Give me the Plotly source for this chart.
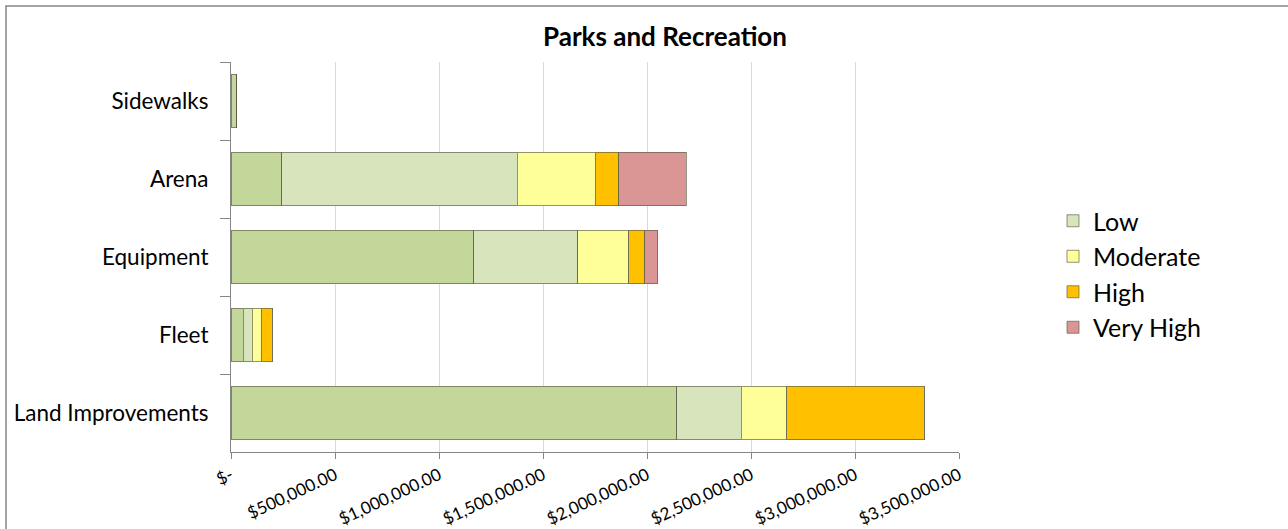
import plotly.graph_objects as go

# Asset categories, listed top to bottom
categories = ["Sidewalks", "Arena", "Equipment", "Fleet", "Land Improvements"]

# Replacement cost by risk rating (dollars)
low_base = [27000, 245000, 1168000, 57700, 2142000]
low = [0, 1130000, 500000, 43300, 311000]
moderate = [0, 375000, 245000, 44700, 220000]
high = [0, 115000, 75000, 52900, 660000]
very_high = [0, 324000, 62500, 0, 0]

# Axis ticks
tick_values = [0, 500000, 1000000, 1500000, 2000000, 2500000, 3000000, 3500000]
tick_labels = ["$-", "$500,000.00", "$1,000,000.00", "$1,500,000.00",
               "$2,000,000.00", "$2,500,000.00", "$3,000,000.00", "$3,500,000.00"]

FONT = "Lato, 'Open Sans', sans-serif"
OUTLINE = "rgba(90,90,70,0.65)"

series = [
    ("Low (base)", low_base, "#C4D79B", False),
    ("Low", low, "#D8E4BC", True),
    ("Moderate", moderate, "#FFFF99", True),
    ("High", high, "#FFC000", True),
    ("Very High", very_high, "#DA9694", True),
]

fig = go.Figure()
for name, vals, color, show in series:
    fig.add_trace(go.Bar(
        y=categories, x=vals, name=name, orientation="h",
        marker=dict(color=color, line=dict(color=OUTLINE, width=1)),
        showlegend=show,
    ))

L, R, T, B = 231, 959, 62, 452
W, H = 1288, 529

fig.update_layout(
    width=W, height=H,
    barmode="stack", bargap=0.32,
    paper_bgcolor="white", plot_bgcolor="white",
    margin=dict(l=L, r=W - R, t=T, b=H - B, pad=0, autoexpand=False),
    font=dict(family=FONT, color="#000000"),
    title=dict(text="<b>Parks and Recreation</b>", font=dict(size=26, family=FONT),
               x=(665 - L) / (R - L), xref="paper", xanchor="center",
               y=(H - 37) / H, yref="container", yanchor="middle"),
    legend=dict(x=(1053 - L) / (R - L), xanchor="left", y=(B - 198) / (B - T), yanchor="top",
                font=dict(size=25, family=FONT), tracegroupgap=0, itemwidth=30,
                traceorder="normal", bgcolor="rgba(0,0,0,0)"),
    xaxis=dict(range=[0, 3500000], tickvals=tick_values, ticktext=tick_labels,
               tickangle=-25, tickfont=dict(size=17, family=FONT, color="#000000"),
               showgrid=True, gridcolor="#D9D9D9", gridwidth=1, automargin=False,
               zeroline=False, showline=True, linecolor="#868686", linewidth=1,
               ticks="outside", ticklen=6, tickcolor="#868686"),
    yaxis=dict(autorange="reversed", type="category", automargin=False,
               tickfont=dict(size=22.5, family=FONT, color="#000000"),
               showgrid=False, zeroline=False, showline=True, linecolor="#868686", linewidth=1,
               ticks="outside", tickson="boundaries", ticklen=10, tickcolor="#868686",
               ticklabelstandoff=17),
    shapes=[dict(type="rect", xref="paper", yref="paper",
                 x0=(6 - L) / (R - L), x1=(W + 20 - L) / (R - L),
                 y0=(B - (H + 20)) / (B - T), y1=(B - 6) / (B - T),
                 line=dict(color="#868686", width=1.5), fillcolor="rgba(0,0,0,0)", layer="below")],
)

fig.write_html("out.html")
